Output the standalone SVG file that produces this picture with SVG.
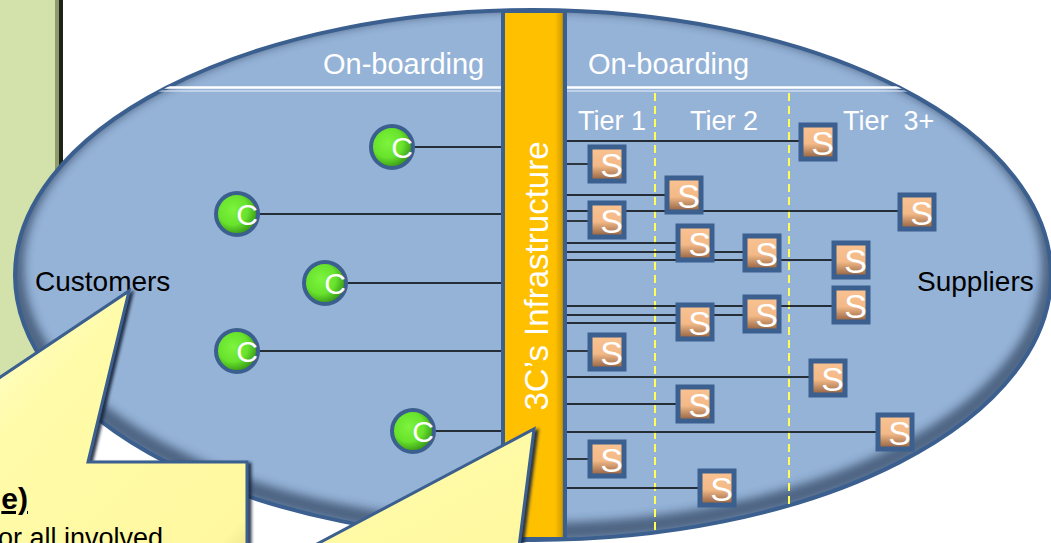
<svg xmlns="http://www.w3.org/2000/svg" width="1051" height="543" viewBox="0 0 1051 543">
<defs>
  <style>
    .lbl{font-family:"Liberation Sans",Arial,sans-serif;}
    .wt{fill:#ffffff;}
    .bk{fill:#000000;}
    .conn line{stroke:#000000;stroke-width:1.4;}
    .snode rect{fill:url(#sGrad);stroke:#3B5F8E;stroke-width:5;}
    .snode text{font-family:"Liberation Sans",Arial,sans-serif;font-size:34px;fill:#ffffff;text-anchor:end;}
    .cnode circle{fill:url(#cGrad);stroke:#3B5F8E;stroke-width:4;}
    .cnode text{font-family:"Liberation Sans",Arial,sans-serif;font-size:30px;fill:#ffffff;text-anchor:end;}
    .tier{stroke:#FFFF55;stroke-width:2;stroke-dasharray:8 5;}
    .callout{fill:url(#yGrad);stroke:#3B5F8E;stroke-width:3;stroke-linejoin:miter;}
  </style>
  <clipPath id="ellClip"><ellipse cx="533" cy="275" rx="518" ry="265"/></clipPath>
  <linearGradient id="sGrad" x1="0" y1="0" x2="0" y2="1">
    <stop offset="0" stop-color="#FAC392"/>
    <stop offset="0.55" stop-color="#F3B987"/>
    <stop offset="1" stop-color="#8C5C3C"/>
  </linearGradient>
  <radialGradient id="cGrad" cx="0.4" cy="0.4" r="0.65">
    <stop offset="0" stop-color="#7DF43E"/>
    <stop offset="0.55" stop-color="#68E22C"/>
    <stop offset="1" stop-color="#2F8A12"/>
  </radialGradient>
  <linearGradient id="barGrad" x1="0" y1="0" x2="1" y2="0">
    <stop offset="0" stop-color="#FFC000"/>
    <stop offset="0.84" stop-color="#FFC000"/>
    <stop offset="0.94" stop-color="#D9A200"/>
    <stop offset="1" stop-color="#8C6A00"/>
  </linearGradient>
  <linearGradient id="yGrad" x1="0" y1="0" x2="1" y2="1">
    <stop offset="0" stop-color="#FFFFD2"/>
    <stop offset="0.3" stop-color="#FFFBA8"/>
    <stop offset="0.9" stop-color="#FFF8A0"/>
    <stop offset="1" stop-color="#E6DC84"/>
  </linearGradient>
  <filter id="blur5" x="-10%" y="-10%" width="120%" height="120%"><feGaussianBlur stdDeviation="5"/></filter>
  <filter id="shadow" x="-10%" y="-10%" width="120%" height="120%"><feDropShadow dx="3" dy="2" stdDeviation="1.5" flood-color="#15233A" flood-opacity="0.9"/></filter>
</defs>

<rect width="1051" height="543" fill="#ffffff"/>

<!-- green side panel -->
<g id="side-panel">
  <rect x="-5" y="-5" width="62" height="460" fill="#D3E2AA"/>
  <rect x="55" y="-5" width="4" height="460" fill="#8E9A6A"/>
  <rect x="59" y="-5" width="4" height="460" fill="#1E2418"/>
</g>

<!-- big ellipse -->
<g id="ecosystem">
  <ellipse cx="533" cy="275" rx="518" ry="265" fill="#95B3D7"/>
  <g clip-path="url(#ellClip)">
    <ellipse cx="533" cy="267" rx="518" ry="265" fill="none" stroke="#1C2E48" stroke-width="18" opacity="0.6" filter="url(#blur5)"/>
  </g>
  <ellipse cx="533" cy="275" rx="518" ry="265" fill="none" stroke="#3B5F8E" stroke-width="4"/>
  <g clip-path="url(#ellClip)">
    <line x1="150" y1="87.5" x2="502" y2="87.5" stroke="#ffffff" stroke-width="2.5"/>
    <line x1="150" y1="91" x2="502" y2="91" stroke="#EAF1FA" stroke-width="1"/>
    <line x1="567" y1="87.5" x2="960" y2="87.5" stroke="#ffffff" stroke-width="2.5"/>
    <line x1="567" y1="91" x2="960" y2="91" stroke="#EAF1FA" stroke-width="1"/>
    <line class="tier" x1="655" y1="93" x2="655" y2="531"/>
    <line class="tier" x1="789" y1="93" x2="789" y2="507"/>
  </g>
  <text class="lbl wt" x="323" y="74" font-size="29">On-boarding</text>
  <text class="lbl wt" x="588" y="74" font-size="29">On-boarding</text>
  <text class="lbl wt" x="578" y="130" font-size="27">Tier 1</text>
  <text class="lbl wt" x="690" y="130" font-size="27">Tier 2</text>
  <text class="lbl wt" x="843" y="130" font-size="27" xml:space="preserve">Tier  3+</text>
  <text class="lbl bk" x="35" y="291" font-size="28">Customers</text>
  <text class="lbl bk" x="917" y="291" font-size="28">Suppliers</text>
</g>

<!-- connectors -->
<g id="connectors" class="conn">
  <line x1="415" y1="147" x2="502" y2="147"/>
  <line x1="260" y1="214" x2="502" y2="214"/>
  <line x1="348" y1="283" x2="502" y2="283"/>
  <line x1="260" y1="351" x2="502" y2="351"/>
  <line x1="436" y1="431" x2="502" y2="431"/>

  <line x1="567" y1="141" x2="800" y2="141"/>
  <line x1="567" y1="164" x2="590" y2="164"/>
  <line x1="567" y1="195" x2="667" y2="195"/>
  <line x1="567" y1="211" x2="898" y2="211"/>
  <line x1="567" y1="221" x2="590" y2="221"/>
  <line x1="567" y1="243" x2="678" y2="243"/>
  <line x1="567" y1="252" x2="745" y2="252"/>
  <line x1="567" y1="260" x2="834" y2="260"/>
  <line x1="567" y1="306" x2="834" y2="306"/>
  <line x1="567" y1="315" x2="745" y2="315"/>
  <line x1="567" y1="323" x2="678" y2="323"/>
  <line x1="567" y1="351" x2="590" y2="351"/>
  <line x1="567" y1="377" x2="811" y2="377"/>
  <line x1="567" y1="404" x2="678" y2="404"/>
  <line x1="567" y1="432" x2="878" y2="432"/>
  <line x1="567" y1="459" x2="590" y2="459"/>
  <line x1="567" y1="488" x2="700" y2="488"/>
</g>

<!-- central infrastructure bar -->
<g id="infrastructure">
  <rect x="503" y="11" width="62" height="528" fill="url(#barGrad)" stroke="#3B5F8E" stroke-width="4"/>
  <text class="lbl wt" transform="translate(548 276) rotate(-90)" text-anchor="middle" font-size="33">3C’s Infrastructure</text>
</g>

<!-- customer nodes -->
<g id="c1" class="cnode" transform="translate(392 147)"><circle r="21"/><text x="21" y="11">C</text></g>
<g id="c2" class="cnode" transform="translate(237 214)"><circle r="21"/><text x="21" y="11">C</text></g>
<g id="c3" class="cnode" transform="translate(325 283)"><circle r="21"/><text x="21" y="11">C</text></g>
<g id="c4" class="cnode" transform="translate(237 351)"><circle r="21"/><text x="21" y="11">C</text></g>
<g id="c5" class="cnode" transform="translate(413 431)"><circle r="21"/><text x="21" y="11">C</text></g>

<!-- supplier nodes -->
<g id="s1" class="snode" transform="translate(818 142)"><rect x="-17" y="-17" width="34" height="34"/><text x="16" y="13">S</text></g>
<g id="s2" class="snode" transform="translate(607 164)"><rect x="-17" y="-17" width="34" height="34"/><text x="16" y="13">S</text></g>
<g id="s3" class="snode" transform="translate(684 195)"><rect x="-17" y="-17" width="34" height="34"/><text x="16" y="13">S</text></g>
<g id="s4" class="snode" transform="translate(607 220)"><rect x="-17" y="-17" width="34" height="34"/><text x="16" y="13">S</text></g>
<g id="s5" class="snode" transform="translate(917 212)"><rect x="-17" y="-17" width="34" height="34"/><text x="16" y="13">S</text></g>
<g id="s6" class="snode" transform="translate(695 243)"><rect x="-17" y="-17" width="34" height="34"/><text x="16" y="13">S</text></g>
<g id="s7" class="snode" transform="translate(762 253)"><rect x="-17" y="-17" width="34" height="34"/><text x="16" y="13">S</text></g>
<g id="s8" class="snode" transform="translate(851 260)"><rect x="-17" y="-17" width="34" height="34"/><text x="16" y="13">S</text></g>
<g id="s9" class="snode" transform="translate(851 305)"><rect x="-17" y="-17" width="34" height="34"/><text x="16" y="13">S</text></g>
<g id="s10" class="snode" transform="translate(762 314)"><rect x="-17" y="-17" width="34" height="34"/><text x="16" y="13">S</text></g>
<g id="s11" class="snode" transform="translate(695 322)"><rect x="-17" y="-17" width="34" height="34"/><text x="16" y="13">S</text></g>
<g id="s12" class="snode" transform="translate(607 352)"><rect x="-17" y="-17" width="34" height="34"/><text x="16" y="13">S</text></g>
<g id="s13" class="snode" transform="translate(828 378)"><rect x="-17" y="-17" width="34" height="34"/><text x="16" y="13">S</text></g>
<g id="s14" class="snode" transform="translate(695 404)"><rect x="-17" y="-17" width="34" height="34"/><text x="16" y="13">S</text></g>
<g id="s15" class="snode" transform="translate(895 432)"><rect x="-17" y="-17" width="34" height="34"/><text x="16" y="13">S</text></g>
<g id="s16" class="snode" transform="translate(607 459)"><rect x="-17" y="-17" width="34" height="34"/><text x="16" y="13">S</text></g>
<g id="s17" class="snode" transform="translate(717 488)"><rect x="-17" y="-17" width="34" height="34"/><text x="16" y="13">S</text></g>

<!-- callouts -->
<g id="callout-customers">
  <path class="callout" filter="url(#shadow)" d="M -10 384 L 129 291 L 88 462 L 247 462 L 247 570 L -10 570 Z"/>
  <text class="lbl bk" x="28" y="509" font-size="30" font-weight="bold" text-anchor="end" text-decoration="underline">e)</text>
  <text class="lbl bk" x="-2" y="547" font-size="27">or all involved</text>
</g>
<g id="callout-infrastructure">
  <path class="callout" filter="url(#shadow)" d="M 534 429 L 516 570 L 268 570 Z"/>
</g>
</svg>
